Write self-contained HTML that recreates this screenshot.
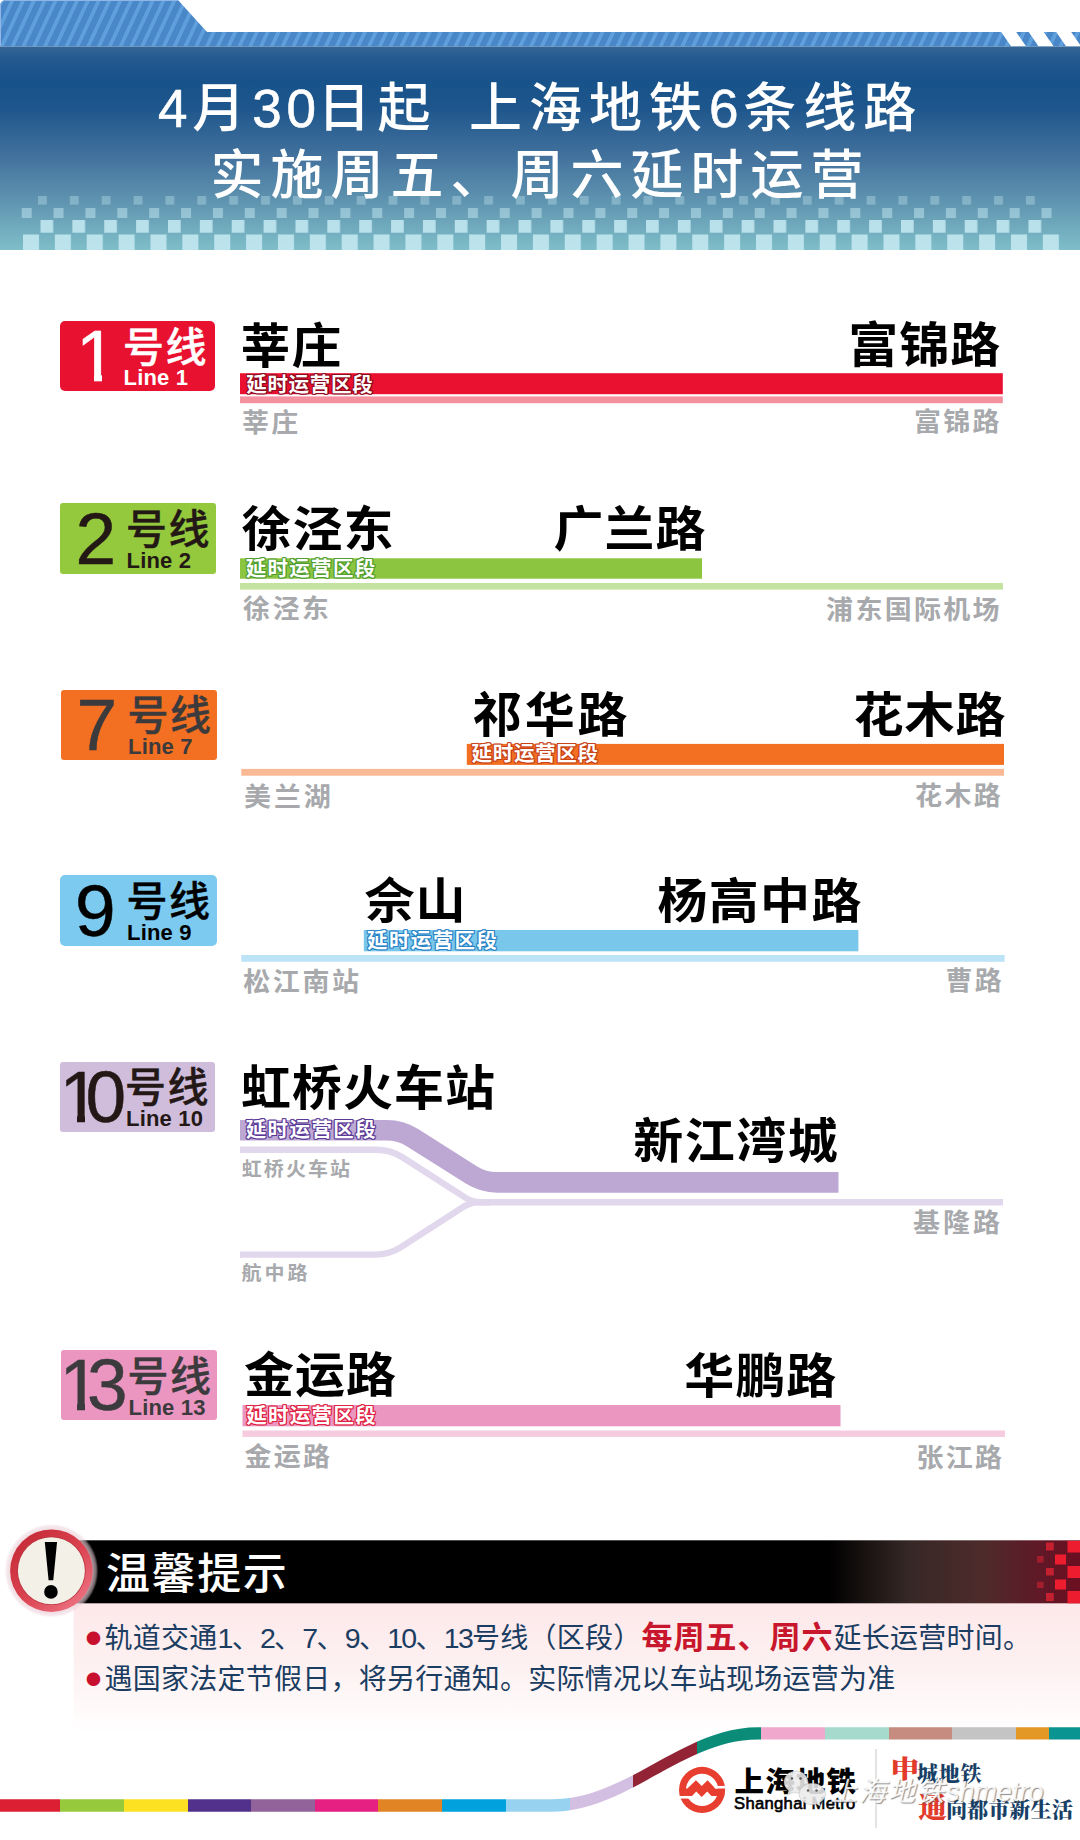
<!DOCTYPE html>
<html lang="zh-CN">
<head>
<meta charset="utf-8">
<title>上海地铁6条线路延时运营</title>
<style>
html,body{margin:0;padding:0;background:#fff;}
body{width:1080px;height:1840px;overflow:hidden;}
#page{position:relative;width:1080px;height:1840px;overflow:hidden;background:#fff;
  font-family:"Liberation Sans","Noto Sans CJK SC",sans-serif;}
#page div, #page span{white-space:nowrap;line-height:1;}
.abs{position:absolute;}
svg{position:absolute;left:0;top:0;}
/* header */
.title{position:absolute;color:#fff;font-size:53px;font-weight:500;letter-spacing:7px;}
.title .d{letter-spacing:4.7px;-webkit-text-stroke:0.6px #fff;}
/* badges */
.badge{position:absolute;left:60px;width:156px;height:70px;border-radius:3px;}
.badge .num{position:absolute;font-size:73px;font-weight:400;top:0;-webkit-text-stroke:0.5px currentColor;}
.badge .num i{position:absolute;top:55.2px;height:8px;background:var(--bg);}
.badge .num .m1{left:3.5px;width:14px;}
.badge .num .m2{left:25.5px;width:13px;}
.badge .num span{position:relative;}
.badge .hx{position:absolute;font-size:41px;font-weight:500;letter-spacing:1.5px;-webkit-text-stroke:0.4px currentColor;}
.badge .ln{position:absolute;font-size:22px;font-weight:700;letter-spacing:0.2px;}
/* station names */
.st{position:absolute;font-size:50px;font-weight:700;color:#000;letter-spacing:1px;transform:scaleY(0.965);transform-origin:50% 92%;}
.sub{position:absolute;font-size:27px;font-weight:700;color:#a7a9ac;letter-spacing:2.3px;transform:scaleY(0.95);transform-origin:50% 92%;}
.sub.r{text-align:right;}
.sub.s{font-size:20px;letter-spacing:2.1px;}
.bar{position:absolute;}
.tag{position:absolute;margin-top:0.4px;margin-left:-0.3px;font-size:20.5px;font-weight:700;color:#fff;letter-spacing:0.7px;text-shadow:1px 0 var(--c),-1px 0 var(--c),0 1px var(--c),0 -1px var(--c),1px 1px var(--c),-1px -1px var(--c),1px -1px var(--c),-1px 1px var(--c);}
/* notice */
.excl{position:absolute;left:36px;top:1528px;width:30px;text-align:center;font-family:"Liberation Serif",serif;font-size:84px;font-weight:700;color:#000;}
.ntitle{position:absolute;left:106px;top:1551.5px;font-size:44px;font-weight:500;color:#fff;letter-spacing:1.6px;transform:scaleY(0.97);transform-origin:50% 90%;}
.nt{position:absolute;left:86px;font-size:28px;color:#1b3d61;letter-spacing:0.25px;}
.nt .bu{color:#c8102e;font-family:"Noto Sans CJK SC",sans-serif;font-size:15px;letter-spacing:0;display:inline-block;width:18.5px;position:relative;top:-4.5px;}
.nt .d{letter-spacing:-1.7px;font-size:28.5px;}
.nt b{color:#c8162c;font-weight:700;font-size:31px;letter-spacing:1px;}
/* footer */
.lg1{position:absolute;left:734.5px;top:1767px;font-size:29.5px;font-weight:900;color:#000;letter-spacing:1.2px;transform:scaleY(0.95);transform-origin:50% 90%;}
.lg2{position:absolute;left:734px;top:1796px;font-size:16.6px;font-weight:400;color:#000;letter-spacing:0.32px;-webkit-text-stroke:0.6px #000;}
.sl{position:absolute;font-family:"Liberation Serif","Noto Serif CJK SC",serif;font-weight:900;}
.sl.r1{font-size:28px;color:#e23a2b;}
.sl.b1{font-size:21px;color:#183f66;letter-spacing:-0.2px;}
.wm{position:absolute;left:830px;top:1778.5px;font-size:27px;font-weight:400;font-style:italic;color:rgba(255,255,255,0.88);text-shadow:1px 1px 1px rgba(70,70,70,0.6);letter-spacing:0px;}
</style>
</head>
<body>
<div id="page">

<!-- ================= HEADER ================= -->
<svg width="1080" height="252" viewBox="0 0 1080 252">
  <defs>
    <linearGradient id="hg" x1="0" y1="46" x2="0" y2="250" gradientUnits="userSpaceOnUse">
      <stop offset="0" stop-color="#376797"/>
      <stop offset="0.06" stop-color="#235a90"/>
      <stop offset="0.17" stop-color="#17528a"/>
      <stop offset="0.3" stop-color="#1d568c"/>
      <stop offset="0.53" stop-color="#41709c"/>
      <stop offset="0.78" stop-color="#6297b2"/>
      <stop offset="1" stop-color="#7fbec8"/>
    </linearGradient>
    <linearGradient id="stripe" x1="0" y1="0" x2="8.87" y2="4.14" gradientUnits="userSpaceOnUse" spreadMethod="repeat">
      <stop offset="0" stop-color="#5f9fdc"/><stop offset="0.33" stop-color="#5f9fdc"/>
      <stop offset="0.38" stop-color="#4a87c9"/><stop offset="0.95" stop-color="#4a87c9"/><stop offset="1" stop-color="#5f9fdc"/>
    </linearGradient>
    <pattern id="ckA" x="23" y="0" width="31.87" height="20" patternUnits="userSpaceOnUse"><rect width="16" height="20" fill="#c3e8f1"/></pattern>
    <pattern id="ckB" x="40.5" y="0" width="31.87" height="20" patternUnits="userSpaceOnUse"><rect width="12.7" height="20" fill="#c3e8f1"/></pattern>
    <pattern id="ckC" x="21.7" y="0" width="31.87" height="20" patternUnits="userSpaceOnUse"><rect width="10" height="20" fill="#c3e8f1"/></pattern>
    <pattern id="ckD" x="38" y="0" width="31.87" height="20" patternUnits="userSpaceOnUse"><rect width="8.8" height="20" fill="#c3e8f1"/></pattern>
  </defs>
  <path d="M0 46.5 V6 Q0 0 6 0 H178 L207 32 H1080 V46.5 Z" fill="url(#stripe)"/>
  <path d="M0.5 46 V6 Q0.5 0.5 6 0.5 H178" fill="none" stroke="#8fb6e6" stroke-width="1"/>
  <!-- white slashes at right -->
  <path d="M1001.2 32 h15 l10 14.5 h-15 Z M1028.7 32 h15 l10 14.5 h-15 Z M1056.2 32 h15 l10 14.5 h-15 Z" fill="#fff"/>
  <rect x="0" y="46.5" width="1080" height="203.5" fill="url(#hg)"/>
  <rect x="23" y="234.5" width="1040" height="15.5" fill="url(#ckA)" opacity="0.9"/>
  <rect x="40" y="220" width="1020" height="12.7" fill="url(#ckB)" opacity="0.88"/>
  <rect x="21" y="208" width="1040" height="10" fill="url(#ckC)" opacity="0.5"/>
  <rect x="38" y="196" width="1010" height="8.6" fill="url(#ckD)" opacity="0.36"/>
</svg>
<div class="title" style="left:158px;top:82px;"><span class="d">4</span>月<span class="d">3</span><span class="d" style="letter-spacing:1.7px">0</span>日起<span style="letter-spacing:16.7px"> </span>上海地铁<span class="d">6</span>条线路</div>
<div class="title" style="left:210.5px;top:149px;">实施周五、周六延时运营</div>

<!-- ================= LINES ================= -->
<!--LINES-START-->
<svg width="1080" height="1840" viewBox="0 0 1080 1840" style="pointer-events:none">
  <rect x="240" y="373.2" width="762.8" height="21" fill="#e9112f"/>
  <rect x="240" y="396.4" width="762.8" height="6.8" fill="#f5919f"/>
  <rect x="240" y="558.3" width="462" height="20.4" fill="#8cc540"/>
  <rect x="240" y="583" width="763" height="6.6" fill="#c5e3a0"/>
  <rect x="466.8" y="743.9" width="537.2" height="21" fill="#f36f21"/>
  <rect x="241.3" y="768.9" width="762.7" height="6.8" fill="#f9b994"/>
  <rect x="363.8" y="930" width="494.6" height="21.3" fill="#79c8ec"/>
  <rect x="241.3" y="955" width="763.3" height="6.8" fill="#bde4f6"/>
  <rect x="242.5" y="1405" width="598" height="21.3" fill="#ea96c1"/>
  <rect x="242.5" y="1430.5" width="762.5" height="6.4" fill="#f6cbdf"/>
</svg>
<!-- Line 1 -->
<div class="badge" style="top:321px;left:60px;width:155px;height:70px;--bg:#e8112f;background:var(--bg);color:#fff;border-radius:5px;">
  <div class="num" style="left:16px;top:-2px;">1<i class="m1"></i><i class="m2"></i></div>
  <div class="hx" style="left:63px;top:6.8px;">号线</div>
  <div class="ln" style="left:63.5px;top:46px;">Line 1</div>
</div>
<div class="st" style="left:240.5px;top:320.5px;">莘庄</div>
<div class="st" style="right:78.7px;top:320px;">富锦路</div>
<div class="tag" style="left:246.5px;top:374.2px;--c:#8e0a1e;">延时运营区段</div>
<div class="sub" style="left:242px;top:410px;">莘庄</div>
<div class="sub r" style="right:78.2px;top:409px;">富锦路</div>

<!-- Line 2 -->
<div class="badge" style="top:503px;left:60px;width:156px;height:70.5px;background:#94c83d;color:#231815;border-radius:3px;">
  <div class="num" style="left:15.5px;top:-1px;">2</div>
  <div class="hx" style="left:66px;top:6.7px;">号线</div>
  <div class="ln" style="left:66.5px;top:46.5px;">Line 2</div>
</div>
<div class="st" style="left:241.6px;top:504.3px;">徐泾东</div>
<div class="st" style="left:553.4px;top:503.5px;">广兰路</div>
<div class="tag" style="left:246.0px;top:558.2px;--c:#4f9e2e;letter-spacing:1.3px;">延时运营区段</div>
<div class="sub" style="left:243.1px;top:596.3px;">徐泾东</div>
<div class="sub r" style="right:78.1px;top:597px;">浦东国际机场</div>

<!-- Line 7 -->
<div class="badge" style="top:690px;left:61px;width:156px;height:69.5px;background:#f36f21;color:#3b3a3c;border-radius:3px;">
  <div class="num" style="left:15.5px;top:-2px;">7</div>
  <div class="hx" style="left:66.5px;top:6px;">号线</div>
  <div class="ln" style="left:67px;top:46px;">Line 7</div>
</div>
<div class="st" style="left:472px;top:690px;letter-spacing:2.7px;">祁华路</div>
<div class="st" style="right:73.6px;top:689.5px;">花木路</div>
<div class="tag" style="left:471.8px;top:743.5px;--c:#c8421a;">延时运营区段</div>
<div class="sub" style="left:244px;top:783.8px;letter-spacing:2.9px;">美兰湖</div>
<div class="sub r" style="right:77px;top:783px;">花木路</div>

<!-- Line 9 -->
<div class="badge" style="top:875px;left:60px;width:157px;height:71px;background:#7ccaef;color:#000;border-radius:5px;">
  <div class="num" style="left:15px;top:-1px;">9</div>
  <div class="hx" style="left:66.5px;top:7.2px;">号线</div>
  <div class="ln" style="left:67px;top:47px;">Line 9</div>
</div>
<div class="st" style="left:364.5px;top:875.5px;">佘山</div>
<div class="st" style="left:657.3px;top:875.8px;letter-spacing:1.4px;">杨高中路</div>
<div class="tag" style="left:367.3px;top:931.0px;--c:#2b84c6;letter-spacing:1.4px;">延时运营区段</div>
<div class="sub" style="left:243.2px;top:969.3px;letter-spacing:2.6px;">松江南站</div>
<div class="sub r" style="right:76px;top:968px;">曹路</div>

<!-- Line 10 -->
<div class="badge" style="top:1062px;left:60px;width:155px;height:69.5px;--bg:#d0bddc;background:var(--bg);color:#231815;border-radius:3px;">
  <div class="num" style="left:-0.5px;top:-2.5px;letter-spacing:-14.5px;">1<i class="m1"></i><i class="m2"></i><span>0</span></div>
  <div class="hx" style="left:65px;top:6px;">号线</div>
  <div class="ln" style="left:66px;top:46px;">Line 10</div>
</div>
<div class="st" style="left:241px;top:1063px;">虹桥火车站</div>
<div class="st" style="left:633.2px;top:1116px;letter-spacing:1.5px;">新江湾城</div>
<svg width="1080" height="1840" viewBox="0 0 1080 1840" style="pointer-events:none">
  <path d="M240 1149.8 H376.6 Q390.6 1149.8 402.4 1157.3 L465.7 1197.9 Q472.5 1202.2 480.5 1202.2 H1003" fill="none" stroke="#e2d8ed" stroke-width="6.4"/>
  <path d="M240 1254.6 H375.2 Q389.2 1254.6 401 1247.1 L463.9 1206.5 Q470.7 1202.2 478.7 1202.2 H490" fill="none" stroke="#e2d8ed" stroke-width="6.4"/>
  <path d="M240 1130.3 H386.8 Q400.8 1130.3 412.6 1137.8 L471.3 1174.9 Q483.1 1182.4 497.1 1182.4 H838.5" fill="none" stroke="#bda8d3" stroke-width="20.6"/>
</svg>
<div class="tag" style="left:246.0px;top:1119.6px;--c:#5b3a97;letter-spacing:1.4px;">延时运营区段</div>
<div class="sub s" style="left:241.7px;top:1158.5px;">虹桥火车站</div>
<div class="sub s" style="left:241.5px;top:1263px;letter-spacing:3px;">航中路</div>
<div class="sub r" style="right:77px;top:1210px;letter-spacing:3px;">基隆路</div>

<!-- Line 13 -->
<div class="badge" style="top:1350px;left:61px;width:156px;height:70px;--bg:#ea96c1;background:var(--bg);color:#3b3a3c;border-radius:3px;">
  <div class="num" style="left:-1.5px;top:-1.6px;letter-spacing:-13px;">1<i class="m1"></i><i class="m2"></i><span>3</span></div>
  <div class="hx" style="left:66.5px;top:6.6px;">号线</div>
  <div class="ln" style="left:67.5px;top:46.7px;">Line 13</div>
</div>
<div class="st" style="left:244px;top:1350px;">金运路</div>
<div class="st" style="left:684.2px;top:1350.5px;">华鹏路</div>
<div class="tag" style="left:246.5px;top:1405.3px;--c:#e0213f;letter-spacing:1.3px;">延时运营区段</div>
<div class="sub" style="left:244.5px;top:1444.3px;">金运路</div>
<div class="sub r" style="right:75.7px;top:1444.5px;">张江路</div>
<!--LINES-END-->

<!-- ================= NOTICE ================= -->
<!--NOTICE-START-->
<svg width="1080" height="1840" viewBox="0 0 1080 1840" style="pointer-events:none">
  <defs>
    <linearGradient id="pk" x1="0" y1="1603" x2="0" y2="1734" gradientUnits="userSpaceOnUse">
      <stop offset="0" stop-color="#fde8ea"/>
      <stop offset="0.45" stop-color="#fdf0f1"/>
      <stop offset="0.85" stop-color="#fffbfb"/>
      <stop offset="1" stop-color="#ffffff"/>
    </linearGradient>
    <linearGradient id="bk" x1="75" y1="0" x2="1080" y2="0" gradientUnits="userSpaceOnUse">
      <stop offset="0" stop-color="#000"/>
      <stop offset="0.75" stop-color="#000"/>
      <stop offset="0.83" stop-color="#362826"/>
      <stop offset="0.905" stop-color="#4e2b2b"/>
      <stop offset="0.955" stop-color="#5e1a27"/>
      <stop offset="1" stop-color="#6c0e21"/>
    </linearGradient>
    <radialGradient id="glow" cx="51.4" cy="1570.7" r="47" gradientUnits="userSpaceOnUse">
      <stop offset="0.86" stop-color="#ecd0d8" stop-opacity="0.8"/>
      <stop offset="0.95" stop-color="#ecd3da" stop-opacity="0.5"/>
      <stop offset="1" stop-color="#f3dde3" stop-opacity="0"/>
    </radialGradient>
    <linearGradient id="ring" x1="20" y1="1535" x2="85" y2="1608" gradientUnits="userSpaceOnUse">
      <stop offset="0" stop-color="#c52a36"/>
      <stop offset="0.5" stop-color="#db4250"/>
      <stop offset="1" stop-color="#ee7686"/>
    </linearGradient>
  </defs>
  <rect x="73.6" y="1603" width="1006.4" height="131" fill="url(#pk)"/>
  <rect x="75" y="1540.3" width="1005" height="63" fill="url(#bk)"/>
  <g fill="#ed1c2e">
    <rect x="1067.5" y="1541" width="12.5" height="11.5"/><rect x="1067.5" y="1566" width="12.5" height="12"/><rect x="1067.5" y="1591" width="12.5" height="12.3"/>
    <rect x="1055" y="1554.5" width="11" height="10"/><rect x="1055" y="1579.5" width="11" height="10"/>
  </g>
  <g fill="#c5202f">
    <rect x="1046" y="1542.5" width="7.8" height="8"/><rect x="1046" y="1568" width="7.8" height="7.5"/><rect x="1046" y="1593" width="7.8" height="8"/>
  </g>
  <g fill="#a31d2d">
    <rect x="1037" y="1556" width="6.6" height="6.5"/><rect x="1037" y="1581.8" width="6.6" height="6.3"/>
  </g>
  <circle cx="51.4" cy="1570.7" r="47" fill="url(#glow)"/>
  <circle cx="51.4" cy="1570.7" r="41.3" fill="url(#ring)"/>
  <circle cx="51.4" cy="1570.7" r="34.3" fill="#b8343f"/>
  <circle cx="51.4" cy="1570.7" r="33.5" fill="#f3f0e7"/>
</svg>
<div class="excl">!</div>
<div class="ntitle">温馨提示</div>
<div class="nt" style="top:1622px;"><span class="bu">●</span>轨道交通<span class="d">1</span>、<span class="d">2</span>、<span class="d">7</span>、<span class="d">9</span>、<span class="d">10</span>、<span class="d">13</span>号线（区段）<b>每周五、周六</b>延长运营时间。</div>
<div class="nt" style="top:1666px;"><span class="bu">●</span>遇国家法定节假日，将另行通知。实际情况以车站现场运营为准</div>
<!--NOTICE-END-->

<!-- ================= FOOTER ================= -->
<!--FOOTER-START-->
<svg width="1080" height="1840" viewBox="0 0 1080 1840" style="pointer-events:none">
  <defs>
    <linearGradient id="band" x1="0" y1="0" x2="1080" y2="0" gradientUnits="userSpaceOnUse">
      <stop offset="0" stop-color="#dc1f33"/><stop offset="0.05556" stop-color="#dc1f33"/>
      <stop offset="0.05556" stop-color="#97c93d"/><stop offset="0.11481" stop-color="#97c93d"/>
      <stop offset="0.11481" stop-color="#fbe122"/><stop offset="0.17407" stop-color="#fbe122"/>
      <stop offset="0.17407" stop-color="#52318c"/><stop offset="0.23241" stop-color="#52318c"/>
      <stop offset="0.23241" stop-color="#92639b"/><stop offset="0.29167" stop-color="#92639b"/>
      <stop offset="0.29167" stop-color="#e61f83"/><stop offset="0.35046" stop-color="#e61f83"/>
      <stop offset="0.35046" stop-color="#e08424"/><stop offset="0.40972" stop-color="#e08424"/>
      <stop offset="0.40972" stop-color="#00a1dc"/><stop offset="0.46852" stop-color="#00a1dc"/>
      <stop offset="0.46852" stop-color="#97d3f0"/><stop offset="0.52778" stop-color="#97d3f0"/>
      <stop offset="0.52778" stop-color="#d3bfe1"/><stop offset="0.58657" stop-color="#d3bfe1"/>
      <stop offset="0.58657" stop-color="#922436"/><stop offset="0.64537" stop-color="#922436"/>
      <stop offset="0.64537" stop-color="#0a8c78"/><stop offset="0.70463" stop-color="#0a8c78"/>
      <stop offset="0.70463" stop-color="#f0a8cc"/><stop offset="0.76389" stop-color="#f0a8cc"/>
      <stop offset="0.76389" stop-color="#a5dacd"/><stop offset="0.82278" stop-color="#a5dacd"/>
      <stop offset="0.82278" stop-color="#c78c80"/><stop offset="0.88194" stop-color="#c78c80"/>
      <stop offset="0.88194" stop-color="#c4c4c4"/><stop offset="0.94074" stop-color="#c4c4c4"/>
      <stop offset="0.94074" stop-color="#e39725"/><stop offset="0.97093" stop-color="#e39725"/>
      <stop offset="0.97093" stop-color="#0a9491"/><stop offset="1" stop-color="#0a9491"/>
    </linearGradient>
  </defs>
  <path d="M-5 1799.3 H552 C627 1799.3 683 1727.2 758 1727.2 H1085 V1739.5 H758 C683 1739.5 627 1811.7 552 1811.7 H-5 Z" fill="url(#band)"/>
  <!-- Shanghai Metro logo -->
  <g transform="translate(670 1760) scale(0.06481)">
    <circle cx="495" cy="462" r="356" fill="#e83e2f"/>
    <circle cx="495" cy="462" r="248" fill="#fff"/>
    <path d="M240 440 H268 L400 313 L490 400 L580 313 L700 440 H750 V555 H640 L575 485 L490 570 L405 485 L340 555 H240 Z" fill="#e83e2f"/>
    <rect x="690" y="400" width="170" height="40" fill="#fff"/>
    <rect x="130" y="555" width="165" height="40" fill="#fff"/>
  </g>
  <rect x="875.5" y="1749" width="1" height="79" fill="#c9c9c9"/>
</svg>
<svg width="1080" height="1840" viewBox="0 0 1080 1840" style="pointer-events:none;z-index:5">
  <g fill="#ececec" fill-opacity="0.88" stroke="#8a8a8a" stroke-opacity="0.35" stroke-width="0.8">
    <path d="M796 1771 c-6.8 0 -12 4.9 -12 11 c0 3.5 1.8 6.5 4.6 8.6 l-1.3 4.6 l5 -2.7 c1.2 .3 2.4 .5 3.7 .5 c6.8 0 12 -4.9 12 -11 s-5.2 -11 -12 -11 z"/>
    <path d="M812.3 1783.3 c-7.3 0 -13.2 4.8 -13.2 10.7 s5.9 10.7 13.2 10.7 c1.5 0 2.9 -.2 4.2 -.6 l4.3 2.4 l-1.1 -3.9 c3.500 -1.900 5.800 -5.000 5.800 -8.600 c0 -5.900 -5.900 -10.700 -13.200 -10.700 z"/>
  </g>
  <g fill="#333" fill-opacity="0.75"><circle cx="792" cy="1778.500" r="1.300"/><circle cx="800.500" cy="1778.500" r="1.300"/><circle cx="808" cy="1790.500" r="1.200"/><circle cx="816.500" cy="1790.500" r="1.200"/></g>
</svg>
<div class="lg1">上海地铁</div>
<div class="lg2">Shanghai Metro</div>
<div class="sl r1" style="left:889.5px;top:1755px;transform:scale(1.07,0.9);transform-origin:0 88%;">申</div>
<div class="sl b1" style="left:917px;top:1764px;letter-spacing:0.7px;">城地铁</div>
<div class="sl r1" style="left:918px;top:1795.2px;transform:scaleX(1.05);transform-origin:0 50%;">通</div>
<div class="sl b1" style="left:946px;top:1800px;letter-spacing:0.2px;">向都市新生活</div>
<div class="wm"><span style="letter-spacing:2px">上海地铁</span>shmetro</div>
<!--FOOTER-END-->

</div>
</body>
</html>
